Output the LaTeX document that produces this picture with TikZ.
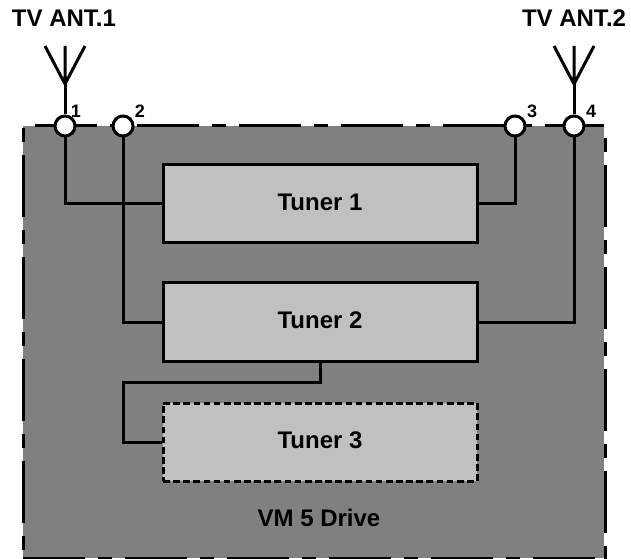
\documentclass[tikz,border=0pt]{standalone}
\usepackage{fontspec}
\setmainfont{Liberation Sans}
\begin{document}
\begin{tikzpicture}[x=0.75pt,y=-0.75pt,
  wire/.style={line width=2.25pt,line join=miter},
  edge/.style={line width=2.25pt,dash pattern=on 46.5pt off 9.75pt on 10.5pt off 9.75pt},
  tunerbox/.style={draw=black,fill=tunergray,line width=2.25pt,rectangle,minimum width=235.5pt,minimum height=58.5pt,inner sep=0pt,text depth=3pt,font=\bfseries\fontsize{18}{20}\selectfont},
  port/.style={circle,draw=black,fill=white,line width=2.25pt,minimum size=15pt,inner sep=0pt},
  lab/.style={font=\bfseries\fontsize{18}{20}\selectfont,inner sep=0pt},
  numlab/.style={font=\bfseries\fontsize{13.5}{15}\selectfont,inner sep=0pt}]
\definecolor{tunergray}{HTML}{C0C0C0}
\definecolor{drivegray}{HTML}{808080}
\useasboundingbox (0,0) rectangle (631,559);
\fill[white] (0,0) rectangle (631,559);
\fill[drivegray] (23,126) rectangle (604,558);
\draw[edge,dash phase=67.5pt] (23,126) -- (604,126);
\draw[edge,dash phase=47.25pt] (605,126) -- (605,559);
\draw[edge,dash phase=54.75pt] (23.5,126) -- (23.5,559);
\draw[edge] (23,558.5) -- (604,558.5);
\node[tunerbox] (t1) at (320,204) {Tuner 1};
\node[tunerbox] (t2) at (320,322) {Tuner 2};
\node[tunerbox,dash pattern=on 5pt off 2.6pt] (t3) at (320,442) {Tuner 3};
\node[lab] (drive) at (319,518) {VM 5 Drive};
\node[port] (p1) at (65,126) {};
\node[port] (p2) at (123,126) {};
\node[port] (p3) at (515,126) {};
\node[port] (p4) at (574,126) {};
\node[numlab] (n1) at (76,111) {1};
\node[numlab] (n2) at (140,111) {2};
\node[numlab] (n3) at (532,111) {3};
\node[numlab] (n4) at (591,111) {4};
\node[lab] (a1) at (64,18.5) {TV ANT.1};
\node[lab] (a2) at (574,18.5) {TV ANT.2};
\coordinate (tip1) at (65,84);
\coordinate (tip2) at (574,84);
\coordinate (c2) at (123,382);
\coordinate (j) at (320,382);
\draw[wire] (p1) |- (t1.west);
\draw[wire] (p2) |- (t2.west);
\draw[wire] (p3) |- (t1.east);
\draw[wire] (p4) |- (t2.east);
\draw[wire] (t2.south -| j) -- (j) -- (c2) |- (t3.west);
\draw[wire] (p1) -- (tip1);
\draw[wire] (p4) -- (tip2);
\draw[wire] (tip1) -- +(0,-38) (tip1) -- +(-20,-38) (tip1) -- +(20,-38);
\draw[wire] (tip2) -- +(0,-38) (tip2) -- +(-20,-38) (tip2) -- +(20,-38);
\end{tikzpicture}
\end{document}
